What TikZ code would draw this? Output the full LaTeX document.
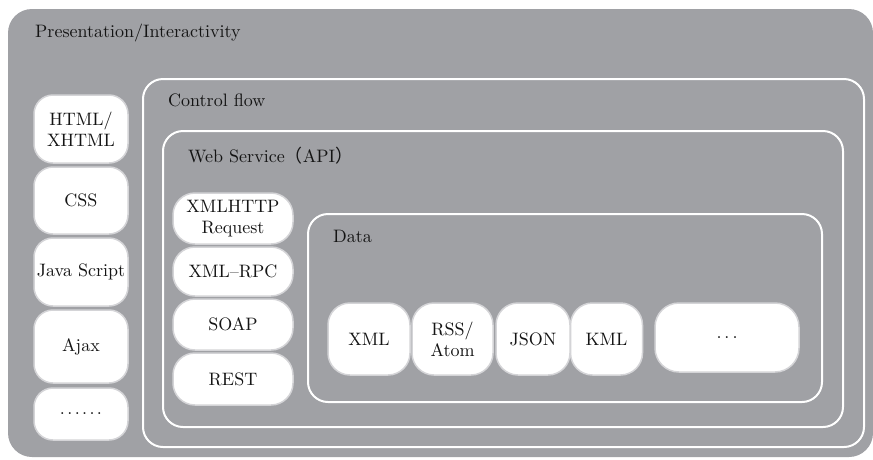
\documentclass[tikz,border=0pt]{standalone}
\usepackage{fontspec}
\setmainfont{lmroman10-regular}[Extension=.otf]
\newfontfamily\cjk{Noto Sans CJK SC}
\definecolor{bg}{RGB}{160,161,165}
\definecolor{edge}{RGB}{212,212,215}
\definecolor{ink}{RGB}{20,20,20}
\newcommand{\mydots}[2]{\foreach \k in {1,...,#1}{.\ifnum\k<#1\kern#2\fi}}
\begin{document}
\begin{tikzpicture}[x=1pt,y=-1pt,
  every node/.style={font=\fontsize{18}{21}\selectfont, text=ink},
  box/.style={fill=white, draw=edge, line width=1.5pt, rounded corners=19pt, align=center, inner sep=0pt},
  frame/.style={draw=white, line width=2pt, rounded corners=20pt},
  lbl/.style={anchor=base west, inner sep=0pt}]
\useasboundingbox (0,0) rectangle (873,459);
\fill[white] (0,0) rectangle (873,459);
\fill[bg, rounded corners=24pt] (8,9) rectangle (873,457);
\node[lbl] (tpres) at (35,37) {Presentation/Interactivity};
% containers
\draw[frame] (143,79) rectangle (864,447);
\node[lbl] (tctrl) at (168,106) {Control flow};
\draw[frame] (163,131) rectangle (843,427);
\node[lbl] (tws) at (188,162) {Web Service{\cjk （}API{\cjk ）}};
\draw[frame] (308,214) rectangle (822,402);
\node[lbl] (tdata) at (333,242) {Data};
% left column
\node[box, minimum width=94pt, minimum height=68pt] (html) at (81,129) {HTML/\\XHTML};
\node[box, minimum width=94pt, minimum height=67pt] (css) at (81,200.5) {CSS};
\node[box, minimum width=94pt, minimum height=68pt] (js) at (81,272) {Java Script};
\node[box, minimum width=94pt, minimum height=73pt] (ajax) at (81,346.5) {Ajax};
\node[box, minimum width=94pt, minimum height=52pt] (ldots) at (81,414) {.\kern2.4pt.\kern2.4pt.\kern2.4pt.\kern2.4pt.\kern2.4pt.};
% web service column
\node[box, minimum width=120pt, minimum height=51pt, rounded corners=22pt] (xmlhttp) at (233,218.5) {XMLHTTP\\Request};
\node[box, minimum width=120pt, minimum height=49pt, rounded corners=22pt] (xmlrpc) at (233,271.5) {XML--RPC};
\node[box, minimum width=120pt, minimum height=51pt, rounded corners=22pt] (soap) at (233,324.5) {SOAP};
\node[box, minimum width=120pt, minimum height=52pt, rounded corners=22pt] (rest) at (233,379) {REST};
% data row
\node[box, minimum width=82pt, minimum height=72pt, rounded corners=22pt] (xml) at (369,339) {XML};
\node[box, minimum width=81pt, minimum height=72pt, rounded corners=22pt] (rss) at (452.5,339) {RSS/\\Atom};
\node[box, minimum width=74pt, minimum height=72pt, rounded corners=22pt] (json) at (533,339) {JSON};
\node[box, minimum width=72pt, minimum height=72pt, rounded corners=22pt] (kml) at (606.5,339) {KML};
\node[box, minimum width=144pt, minimum height=69pt, rounded corners=24pt] (more) at (727,337.5) {.\kern3pt.\kern3pt.};
\end{tikzpicture}
\end{document}
